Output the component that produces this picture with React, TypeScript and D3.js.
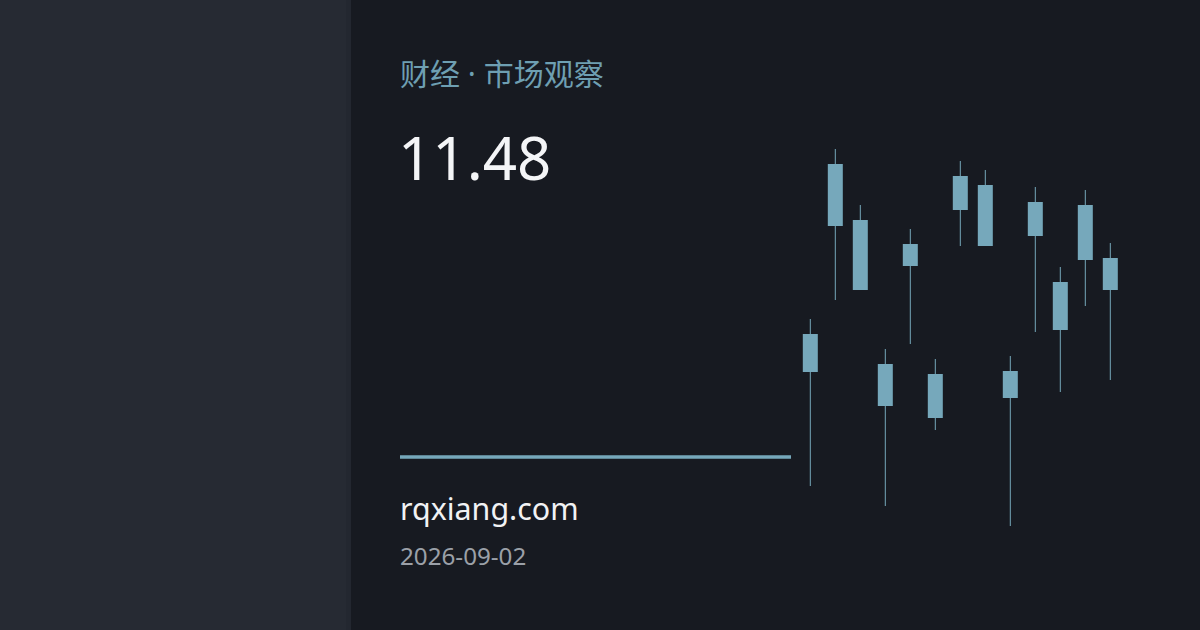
import { scaleBand, scaleLinear } from 'd3'

const W = 1200
const H = 630

// candle values (price units), oldest first
const opens = [10.91, 11.64, 11.32, 10.74, 11.44, 10.68, 11.72, 11.54, 10.78, 11.59, 11.12, 11.47, 11.32]
const closes = [11.1, 11.95, 11.67, 10.95, 11.55, 10.9, 11.89, 11.845, 10.915, 11.76, 11.36, 11.745, 11.48]
const highs = [11.175, 12.025, 11.745, 11.025, 11.625, 10.975, 11.965, 11.92, 10.99, 11.835, 11.435, 11.82, 11.555]
const lows = [10.34, 11.27, 11.32, 10.24, 11.05, 10.62, 11.54, 11.54, 10.14, 11.11, 10.81, 11.24, 10.87]

const title = '财经 · 市场观察'
const lastPrice = '11.48'
const site = 'rqxiang.com'
const date = '2026-09-02'

const accent = '#76a8bb'
const sans = '"Noto Sans", "Noto Sans CJK SC", sans-serif'

export default function App() {
  const idx = opens.map((_, i) => String(i))
  const x = scaleBand().domain(idx).range([797.8, 1122.8]).paddingInner(0.4).paddingOuter(0.2)
  const y = scaleLinear().domain([10, 12]).range([554, 154])

  return (
    <svg
      width={W}
      height={H}
      viewBox={`0 0 ${W} ${H}`}
      style={{ position: 'fixed', left: 0, top: 0, display: 'block' }}
    >
      <rect x={0} y={0} width={W} height={H} fill="#171a21" />
      <rect x={0} y={0} width={351} height={H} fill="#232730" />
      <rect x={0} y={0} width={346} height={H} fill="#262a33" />

      <text x={400} y={85} fill="#6e9fb2" fontFamily={sans} fontSize={30}>
        {title}
      </text>
      <text x={398} y={180} fill="#f4f5f7" fontFamily={sans} fontSize={60}>
        {lastPrice}
      </text>

      <line x1={400} x2={791} y1={457} y2={457} stroke={accent} strokeWidth={3.5} />

      <text x={400} y={520} fill="#f1f2f4" fontFamily={sans} fontSize={30.4}>
        {site}
      </text>
      <text x={400} y={565} fill="#9ba0a8" fontFamily={sans} fontSize={24.2}>
        {date}
      </text>

      {idx.map((k, i) => {
        const cx = (x(k) ?? 0) + x.bandwidth() / 2
        const top = y(Math.max(opens[i], closes[i]))
        const bottom = y(Math.min(opens[i], closes[i]))
        return (
          <g key={k}>
            <line x1={cx} x2={cx} y1={y(highs[i])} y2={y(lows[i])} stroke={accent} strokeWidth={1} />
            <rect x={x(k)} y={top} width={x.bandwidth()} height={bottom - top} fill={accent} />
          </g>
        )
      })}
    </svg>
  )
}
